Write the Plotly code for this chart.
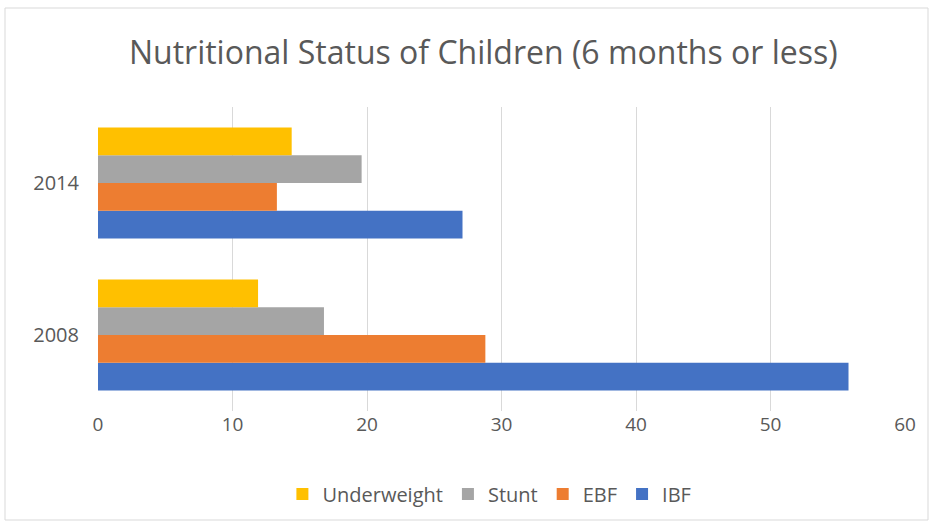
import plotly.graph_objects as go

years = ["2008", "2014"]
series_names = ["IBF", "EBF", "Stunt", "Underweight"]
ibf = [55.8, 27.1]
ebf = [28.8, 13.3]
stunt = [16.8, 19.6]
underweight = [11.9, 14.4]
colors = {"IBF": "#4472C4", "EBF": "#ED7D31", "Stunt": "#A5A5A5", "Underweight": "#FFC000"}
values = {"IBF": ibf, "EBF": ebf, "Stunt": stunt, "Underweight": underweight}

fig = go.Figure()
for name in series_names:
    fig.add_trace(go.Bar(
        y=years, x=values[name], name=name, orientation="h",
        marker=dict(color=colors[name], line=dict(width=0)),
    ))

W, H = 933, 526
ml, mr, mt, mb = 98, 28, 107, 115
pw, ph = W - ml - mr, H - mt - mb

def px_x(p):
    return (p - ml) / pw

def px_y(p):
    return 1 - (p - mt) / ph

FONT = "Open Sans, Noto Sans, sans-serif"
fig.update_layout(
    width=W, height=H,
    margin=dict(l=ml, r=mr, t=mt, b=mb),
    paper_bgcolor="white", plot_bgcolor="white",
    barmode="group", bargap=0.27, bargroupgap=0,
    font=dict(family=FONT, color="#595959", size=19),
    title=dict(text="Nutritional Status of Children (6 months or less)",
               x=0.518, xanchor="center", y=1 - 53 / H, yanchor="middle",
               font=dict(size=32, color="#595959", family=FONT)),
    xaxis=dict(range=[0, 60], dtick=10, showgrid=True, gridcolor="#D9D9D9", gridwidth=1,
               zeroline=False, showline=False, ticks="", tickfont=dict(size=19, color="#595959")),
    yaxis=dict(showgrid=False, zeroline=False, showline=False, ticks="",
               ticklabelstandoff=18, tickfont=dict(size=20, color="#595959")),
    legend=dict(orientation="h", traceorder="reversed", x=0.485, xanchor="center",
                y=px_y(494), yanchor="middle", font=dict(size=20, color="#595959"),
                itemwidth=30),
    showlegend=True,
)

fig.add_shape(type="rect", xref="paper", yref="paper",
              x0=px_x(5), x1=px_x(928), y0=px_y(520), y1=px_y(8),
              line=dict(color="#D9D9D9", width=1), fillcolor="rgba(0,0,0,0)", layer="below")

fig.write_html("out.html", config={"displayModeBar": False},
               post_script="document.body.style.margin='0';")
